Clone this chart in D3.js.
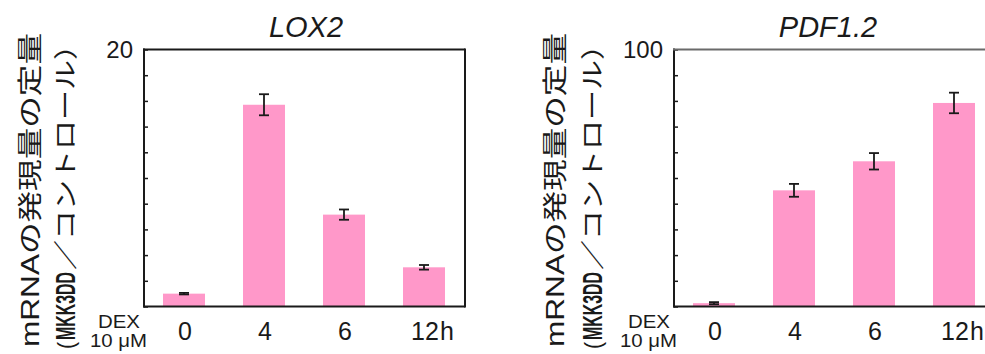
<!DOCTYPE html>
<html>
<head>
<meta charset="utf-8">
<script src="https://cdn.jsdelivr.net/npm/d3@7"></script>
<style>
  html, body { margin: 0; padding: 0; background: #fff; }
  svg { display: block; }
  text { font-family: "Liberation Sans", Arial, "Noto Sans CJK JP", sans-serif; fill: #1a1a1a; }
</style>
</head>
<body>
<svg id="chart" width="985" height="354"></svg>
<script>
// Time points after DEX treatment (hours)
const categories = ["0", "4", "6", "12"];

// LOX2 relative expression (MKK3DD / control)
const lox2Values = [1.0, 15.7, 7.15, 3.05];
const lox2Errors = [0.06, 0.82, 0.4, 0.18];
const lox2Max = 20;
const lox2TickStep = 2;
const lox2TickLabels = ["20"];

// PDF1.2 relative expression (MKK3DD / control)
const pdfValues = [1.3, 45.2, 56.5, 79.2];
const pdfErrors = [0.4, 2.5, 3.2, 4.0];
const pdfMax = 100;
const pdfTickStep = 10;
const pdfTickLabels = ["100"];

const titles = ["LOX2", "PDF1.2"];
const yLabelLine1 = "mRNAの発現量の定量";
const yLabelParen = "(";
const yLabelStrain = "MKK3DD";
const yLabelRest = "／コントロール）";

const svg = d3.select("#chart");
const barColor = "#ff98c9";
const ink = "#1a1a1a";

const plotTop = 49.5, plotBottom = 306.5, frameW = 321;

// rotated text piece running bottom-to-top, starting at (x, yStart), squeezed to a given length
function verticalText(x, yStart, len, size, str, weight) {
  svg.append("g").attr("transform", `translate(${x},${yStart}) rotate(-90)`)
    .append("text").attr("dominant-baseline", "central").attr("font-size", size)
    .attr("font-weight", weight || "normal")
    .attr("textLength", len).attr("lengthAdjust", "spacingAndGlyphs").text(str);
}

function panel(cfg) {
  const g = svg.append("g").attr("transform", `translate(${cfg.left},0)`);

  const x = d3.scaleBand().domain(categories).range([0, 320])
    .paddingInner(0.475).paddingOuter(0.2375);
  const y = d3.scaleLinear().domain([0, cfg.max]).range([plotBottom, plotTop]);

  // bars
  g.selectAll("rect.bar").data(cfg.values).join("rect")
    .attr("class", "bar")
    .attr("x", (d, i) => x(categories[i]))
    .attr("width", x.bandwidth())
    .attr("y", d => y(d))
    .attr("height", d => plotBottom - y(d))
    .attr("fill", barColor);

  // error bars
  const eb = g.selectAll("g.err").data(cfg.values).join("g").attr("class", "err");
  const cx = i => x(categories[i]) + x.bandwidth() / 2;
  eb.append("line")
    .attr("x1", (d, i) => cx(i)).attr("x2", (d, i) => cx(i))
    .attr("y1", (d, i) => y(d + cfg.errors[i])).attr("y2", (d, i) => y(d - cfg.errors[i]))
    .attr("stroke", ink).attr("stroke-width", 1.8);
  [1, -1].forEach(s => {
    eb.append("line")
      .attr("x1", (d, i) => cx(i) - 5).attr("x2", (d, i) => cx(i) + 5)
      .attr("y1", (d, i) => y(d + s * cfg.errors[i])).attr("y2", (d, i) => y(d + s * cfg.errors[i]))
      .attr("stroke", ink).attr("stroke-width", 1.8);
  });

  // inner ticks on the value axis
  const ticks = d3.range(0, cfg.max + 1e-9, cfg.step);
  const axis = d3.axisRight(y).tickValues(ticks).tickSize(4).tickFormat("");
  const ag = g.append("g").call(axis);
  ag.select(".domain").remove();
  ag.selectAll("line").attr("stroke", ink).attr("stroke-width", 1.5);

  // frame
  g.append("line").attr("x1", 0).attr("x2", 0).attr("y1", plotTop - 1).attr("y2", plotBottom + 1)
    .attr("stroke", ink).attr("stroke-width", 2);
  g.append("line").attr("x1", -1).attr("x2", frameW).attr("y1", plotBottom).attr("y2", plotBottom)
    .attr("stroke", ink).attr("stroke-width", 2);
  g.append("line").attr("x1", -1).attr("x2", frameW).attr("y1", plotTop).attr("y2", plotTop)
    .attr("stroke", cfg.topColor).attr("stroke-width", 2);
  g.append("line").attr("x1", frameW).attr("x2", frameW).attr("y1", plotTop - 1).attr("y2", plotBottom + 1)
    .attr("stroke", ink).attr("stroke-width", 2);

  // top tick label
  g.append("text").attr("x", -11).attr("y", y(cfg.max) + 8.5)
    .attr("text-anchor", "end").attr("font-size", 24).text(cfg.tickLabels[0]);

  // category labels
  g.selectAll("text.cat").data(categories).join("text")
    .attr("class", "cat")
    .attr("x", (d, i) => cx(i) + 1).attr("y", 340)
    .attr("text-anchor", "middle").attr("font-size", 25)
    .text(d => d);
  g.append("text").attr("x", cx(3) + 16).attr("y", 340)
    .attr("font-size", 25).text("h");

  // treatment label
  g.append("text").attr("x", -4).attr("y", 328).attr("text-anchor", "end")
    .attr("font-size", 19).attr("textLength", 42).attr("lengthAdjust", "spacingAndGlyphs").text("DEX");
  g.append("text").attr("x", 3).attr("y", 347).attr("text-anchor", "end")
    .attr("font-size", 18).attr("textLength", 57).attr("lengthAdjust", "spacingAndGlyphs").text("10 μM");

  // title
  g.append("text").attr("x", cfg.titleX).attr("y", 37)
    .attr("text-anchor", "middle").attr("font-size", 29).attr("font-style", "italic")
    .text(cfg.title);

  // vertical axis title (two lines)
  verticalText(cfg.labelX1, 347, 314, 25, yLabelLine1);
  verticalText(cfg.labelX2, 349, 7, 24, yLabelParen);
  verticalText(cfg.labelX2 + 1, 340, 68, 27, yLabelStrain, "bold");
  verticalText(cfg.labelX2, 270, 240, 24, yLabelRest);
}

panel({ left: 144, values: lox2Values, errors: lox2Errors, max: lox2Max, step: lox2TickStep,
        tickLabels: lox2TickLabels, title: titles[0], titleX: 162, topColor: ink,
        labelX1: 30, labelX2: 65 });
panel({ left: 674, values: pdfValues, errors: pdfErrors, max: pdfMax, step: pdfTickStep,
        tickLabels: pdfTickLabels, title: titles[1], titleX: 154, topColor: "#6a6a6a",
        labelX1: 555, labelX2: 592 });
</script>
</body>
</html>
